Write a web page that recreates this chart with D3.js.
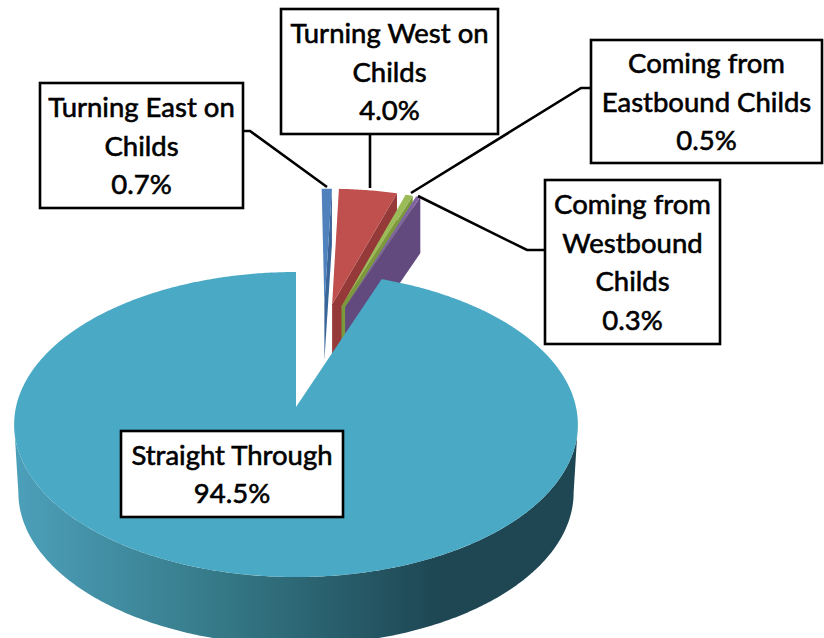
<!DOCTYPE html>
<html><head><meta charset="utf-8">
<script src="https://cdn.jsdelivr.net/npm/d3@7"></script>
<style>html,body{margin:0;padding:0;background:#fff}svg{display:block}</style>
</head><body><svg id="c" width="824" height="638"></svg>
<script>
const categories = ["Turning East on Childs","Turning West on Childs","Coming from Eastbound Childs","Coming from Westbound Childs","Straight Through"];
const values = [0.7,4.0,0.5,0.3,94.5];
const labelLines = [["Turning East on","Childs"],["Turning West on","Childs"],["Coming from","Eastbound Childs"],["Coming from","Westbound","Childs"],["Straight Through"]];
const topColors = ["#4f81bd","#c0504d","#9bbb59","#8064a2","#4aa9c4"];
const sideColors = ["#3a6599","#953a38","#7a9a3c","#624a7e","#4aa9c4"];
const explodeU = [0.11,0.14,0.176,0.19,0];
const explodeV = [-0.74,-0.74,-0.725,-0.72,0];
const boxes = [[40,83,203,125],[281,9,217,125],[591,40,231,123],[545,180,175,164],[121,431,222,86]];
const leaders = [[[243,131],[250,131],[327,187]],[[370,134],[370,188]],[[591,88],[581,88],[411,193]],[[545,250],[527,250],[418,196]]];

const svg = d3.select("#c");
const K = 0.1148;
const sx = d3.scaleLinear().domain([-1,1]).range([296-280,296+280]);
const sy = d3.scaleLinear().domain([-1,1]).range([407-150.5,407+150.5]);
function proj(u,v,depth=0,shrink=1){
  const w = 1-K*v;
  return [sx(u/w*shrink), sy(v/w)+depth];
}
const line = d3.line();
const pie = d3.pie().sort(null).value(d=>d).startAngle(0).endAngle(2*Math.PI);
const arcs = pie(values);
const rim = (a0,a1,eu,ev,depth=0,shrink=1)=>{
  const n = Math.max(2,Math.ceil((a1-a0)/0.01));
  return d3.range(n+1).map(i=>{
    const t=a0+(a1-a0)*i/n;
    return proj(eu+Math.sin(t),ev-Math.cos(t),depth,shrink);
  });
};

const defs = svg.append("defs");
const g = defs.append("linearGradient").attr("id","wall").attr("gradientUnits","userSpaceOnUse")
  .attr("x1",19).attr("x2",440).attr("y1",0).attr("y2",0);
[[0,"#4c9fb9"],[0.5,"#347785"],[1,"#1e4653"]].forEach(s=>g.append("stop").attr("offset",s[0]).attr("stop-color",s[1]));

const T = 4, D = 68, d = 56;
// main slice wall, from silhouette point to silhouette point
const front0 = Math.PI/2+Math.asin(K), front1 = 2*Math.PI-front0;
svg.append("path").attr("fill","url(#wall)")
  .attr("d", line([...rim(front0,front1,0,0), ...rim(front0,front1,0,0,D,0.985).reverse()])+"Z");

// exploded small slices
arcs.slice(0,T).forEach((a,i)=>{
  const eu=explodeU[i], ev=explodeV[i];
  const apex=proj(eu,ev), r=rim(a.startAngle,a.endAngle,eu,ev);
  const end=r[r.length-1];
  const drop=p=>[p[0],p[1]+d];
  svg.append("path").attr("fill",sideColors[i]).attr("d",line([apex,end,drop(end),drop(apex)])+"Z");
  svg.append("path").attr("fill",topColors[i]).attr("d",line([apex,...r])+"Z");
});

// main slice top
const a4=arcs[4];
svg.append("path").attr("fill",topColors[4])
  .attr("d",line([proj(0,0),...rim(a4.startAngle,a4.endAngle,0,0)])+"Z");

// leaders
leaders.forEach(l=>svg.append("path").attr("d",line(l)).attr("fill","none").attr("stroke","#000").attr("stroke-width",2.6));

// labels
const fs=27.5, lh=38.8;
categories.forEach((c,i)=>{
  const b=boxes[i];
  svg.append("rect").attr("x",b[0]).attr("y",b[1]).attr("width",b[2]).attr("height",b[3])
    .attr("fill","#fff").attr("stroke","#000").attr("stroke-width",2.6);
  const lines=[...labelLines[i], d3.format(".1f")(values[i])+"%"];
  const t=svg.append("text").attr("text-anchor","middle").attr("font-family","Lato, Carlito, sans-serif")
    .attr("font-size",fs).attr("fill","#000").attr("stroke","#000").attr("stroke-width",0.6);
  const top=b[1]+b[3]/2-(lines.length*lh)/2;
  lines.forEach((s,j)=>t.append("tspan").attr("x",b[0]+b[2]/2).attr("y",top+lh*j+lh*0.76).text(s));
});
</script></body></html>
